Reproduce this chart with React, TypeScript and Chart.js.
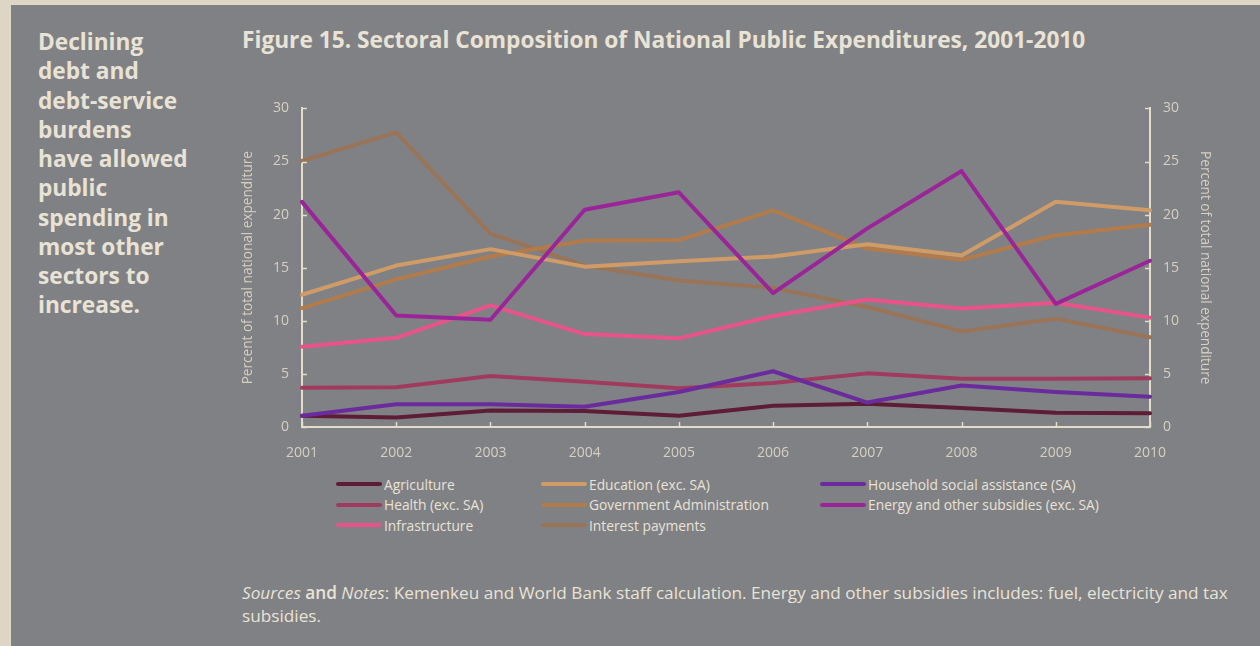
import React, { useEffect, useRef } from "react";
import { Chart, registerables } from "chart.js";

Chart.register(...registerables);

// ---------- data ----------
const years = ["2001", "2002", "2003", "2004", "2005", "2006", "2007", "2008", "2009", "2010"];

const agriculture = [1.05, 0.9, 1.55, 1.5, 1.05, 2.0, 2.2, 1.8, 1.35, 1.3];
const education = [12.45, 15.2, 16.75, 15.1, 15.6, 16.05, 17.2, 16.15, 21.2, 20.4];
const household = [1.05, 2.15, 2.15, 1.9, 3.3, 5.25, 2.3, 3.9, 3.3, 2.85];
const health = [3.7, 3.75, 4.8, 4.25, 3.65, 4.15, 5.05, 4.55, 4.55, 4.6];
const government = [11.2, 13.9, 16.05, 17.55, 17.6, 20.4, 16.8, 15.75, 18.05, 19.05];
const energy = [21.2, 10.5, 10.1, 20.45, 22.1, 12.6, 18.7, 24.1, 11.6, 15.65];
const infrastructure = [7.55, 8.4, 11.45, 8.75, 8.35, 10.45, 12.0, 11.15, 11.7, 10.3];
const interest = [25.05, 27.75, 18.2, 15.2, 13.8, 13.1, 11.3, 9.0, 10.2, 8.45];

const seriesLabels = [
  "Agriculture",
  "Education (exc. SA)",
  "Household social assistance (SA)",
  "Health (exc. SA)",
  "Government Administration",
  "Energy and other subsidies (exc. SA)",
  "Infrastructure",
  "Interest payments",
];
const seriesValues = [agriculture, education, household, health, government, energy, infrastructure, interest];
const seriesColors = ["#5c1d35", "#cf9c68", "#6a2b9c", "#a03b5d", "#b27b4b", "#9a2598", "#e8548a", "#9a7457"];
// drawing priority: first listed is drawn on top
const drawPriority = [5, 2, 6, 1, 4, 7, 3, 0];
// legend columns (indices into series)
const legendColumns = [[0, 3, 6], [1, 4, 7], [2, 5]];

const yMin = 0;
const yMax = 30;
const yStep = 5;
const axisTitle = "Percent of total national expenditure";

const titleText = "Figure 15. Sectoral Composition of National Public Expenditures, 2001-2010";
const sidebarLines = [
  "Declining",
  "debt and",
  "debt-service",
  "burdens",
  "have allowed",
  "public",
  "spending in",
  "most other",
  "sectors to",
  "increase.",
];

// ---------- style ----------
const FONT = "'Open Sans', 'DejaVu Sans', sans-serif";
const BG = "#808185";
const FRAME = "#ddd6c5";
const TEXT = "#e9e3d5";
const AXIS = "#e2dccb";
const TICK_TEXT = "#d6d0c3";

const inwardTicks = {
  id: "inwardTicks",
  afterDatasetsDraw(chart: any) {
    const { ctx, chartArea, scales } = chart;
    const len = 5;
    ctx.save();
    ctx.strokeStyle = AXIS;
    ctx.lineWidth = 1.5;
    ctx.beginPath();
    const ys = scales.y;
    ys.ticks.forEach((t: any) => {
      const py = Math.round(ys.getPixelForValue(t.value)) + 0.5;
      ctx.moveTo(chartArea.left, py);
      ctx.lineTo(chartArea.left + len, py);
    });
    const ys2 = scales.y2;
    ys2.ticks.forEach((t: any) => {
      const py = Math.round(ys2.getPixelForValue(t.value)) + 0.5;
      ctx.moveTo(chartArea.right, py);
      ctx.lineTo(chartArea.right - len, py);
    });
    const xs = scales.x;
    xs.ticks.forEach((_t: any, i: number) => {
      const px = Math.round(xs.getPixelForTick(i)) + 0.5;
      ctx.moveTo(px, chartArea.bottom);
      ctx.lineTo(px, chartArea.bottom - len);
    });
    ctx.stroke();
    ctx.restore();
  },
};

function LineChart() {
  const ref = useRef<HTMLCanvasElement | null>(null);
  useEffect(() => {
    if (!ref.current) return;
    const datasets = seriesValues.map((vals, i) => ({
      label: seriesLabels[i],
      data: vals,
      borderColor: seriesColors[i],
      backgroundColor: seriesColors[i],
      borderWidth: 4,
      pointRadius: 0,
      tension: 0,
      fill: false,
      order: drawPriority.indexOf(i),
    }));
    const tickFont = { family: FONT, size: 14 };
    const titleFont = { family: FONT, size: 13.6 };
    const chart = new Chart(ref.current, {
      type: "line",
      data: { labels: years, datasets },
      options: {
        animation: false,
        responsive: false,
        maintainAspectRatio: false,
        layout: { padding: { top: 6, left: 0, right: 0, bottom: 0 } },
        plugins: { legend: { display: false }, tooltip: { enabled: false } },
        elements: { line: { borderJoinStyle: "round", borderCapStyle: "round" } },
        scales: {
          x: {
            type: "category",
            offset: false,
            grid: { display: false },
            border: { display: true, color: AXIS, width: 2 },
            ticks: { color: TICK_TEXT, font: tickFont, padding: 10, maxRotation: 0, autoSkip: false },
            afterFit: (s: any) => { s.height = 38; },
          },
          y: {
            position: "left",
            min: yMin,
            max: yMax,
            grid: { display: false },
            border: { display: true, color: AXIS, width: 2 },
            ticks: { stepSize: yStep, color: TICK_TEXT, font: tickFont, padding: 5 },
            title: { display: true, text: axisTitle, color: TICK_TEXT, font: titleFont, padding: { top: 10, bottom: 0 } },
            afterFit: (s: any) => { s.width = 72; },
          },
          y2: {
            position: "right",
            min: yMin,
            max: yMax,
            grid: { display: false },
            border: { display: true, color: AXIS, width: 2 },
            ticks: { stepSize: yStep, color: TICK_TEXT, font: tickFont, padding: 5 },
            title: { display: true, text: axisTitle, color: TICK_TEXT, font: titleFont, padding: { top: 27, bottom: 0 } },
            afterFit: (s: any) => { s.width = 90; },
          },
        },
      },
      plugins: [inwardTicks],
    } as any);
    return () => chart.destroy();
  }, []);
  return (
    <canvas
      ref={ref}
      width={1010}
      height={370}
      style={{ position: "absolute", left: 230, top: 95, width: 1010, height: 370 }}
    />
  );
}

function Legend() {
  const colX = [336, 541, 820];
  const rowY = [484, 504.5, 525];
  return (
    <>
      {legendColumns.map((col, ci) =>
        col.map((si, ri) => (
          <div
            key={si}
            style={{
              position: "absolute",
              left: colX[ci],
              top: rowY[ri] - 10,
              height: 20,
              display: "flex",
              alignItems: "center",
              whiteSpace: "nowrap",
              fontFamily: FONT,
              fontSize: 13.8,
              color: TEXT,
            }}
          >
            <span
              style={{
                display: "inline-block",
                width: 46,
                height: 4,
                borderRadius: 2,
                background: seriesColors[si],
                marginRight: 2,
              }}
            />
            <span>{seriesLabels[si]}</span>
          </div>
        ))
      )}
    </>
  );
}

export default function App() {
  return (
    <div style={{ position: "absolute", left: 0, top: 0, width: 1260, height: 646, background: FRAME, overflow: "hidden" }}>
      <div style={{ position: "absolute", left: 11, top: 5, width: 1249, height: 641, background: BG }} />
      <div
        style={{
          position: "absolute",
          left: 38,
          top: 27,
          fontFamily: FONT,
          fontWeight: 700,
          fontSize: 22.7,
          lineHeight: "29.25px",
          color: TEXT,
          whiteSpace: "nowrap",
        }}
      >
        {sidebarLines.map((l, i) => (
          <div key={i}>{l}</div>
        ))}
      </div>
      <div
        style={{
          position: "absolute",
          left: 242,
          top: 25,
          fontFamily: FONT,
          fontWeight: 700,
          fontSize: 22.7,
          lineHeight: "30px",
          color: TEXT,
          whiteSpace: "nowrap",
        }}
      >
        {titleText}
      </div>
      <LineChart />
      <Legend />
      <div
        style={{
          position: "absolute",
          left: 242,
          top: 581,
          fontFamily: FONT,
          fontSize: 17.2,
          lineHeight: "23px",
          color: TEXT,
          whiteSpace: "nowrap",
        }}
      >
        <span style={{ fontStyle: "italic" }}>Sources</span>{" "}
        <span style={{ fontWeight: 600 }}>and</span>{" "}
        <span style={{ fontStyle: "italic" }}>Notes</span>: Kemenkeu and World Bank staff calculation. Energy and other
        subsidies includes: fuel, electricity and tax
        <br />
        subsidies.
      </div>
    </div>
  );
}
